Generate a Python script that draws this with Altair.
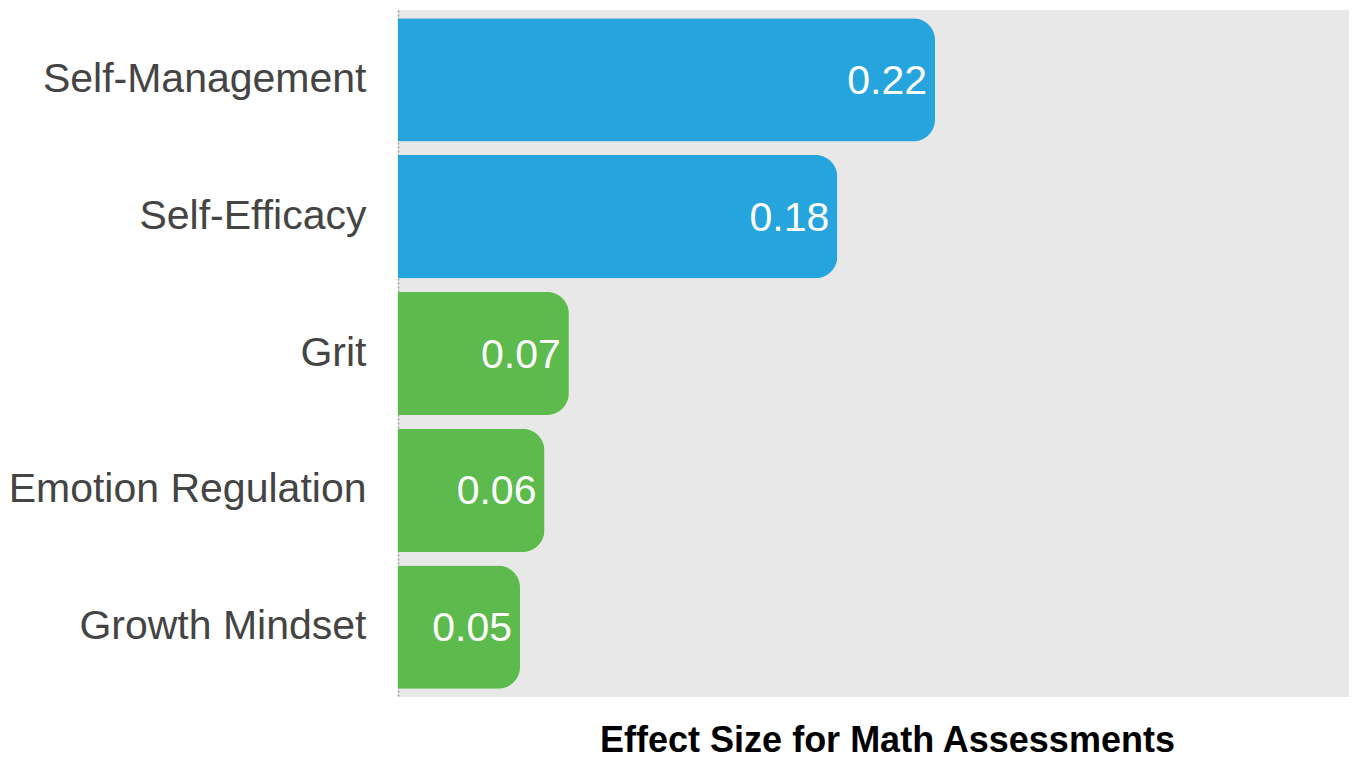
import altair as alt
import pandas as pd

categories = ["Self-Management", "Self-Efficacy", "Grit", "Emotion Regulation", "Growth Mindset"]
values = [0.22, 0.18, 0.07, 0.06, 0.05]
groups = ["top", "top", "other", "other", "other"]
labels = ["0.22", "0.18", "0.07", "0.06", "0.05"]

df = pd.DataFrame({"category": categories, "value": values, "group": groups, "label": labels})

x_scale = alt.Scale(domain=[0, 0.3896], nice=False, zero=True)
y_enc = alt.Y(
    "category:N",
    sort=categories,
    scale=alt.Scale(paddingInner=0.1, paddingOuter=0.06),
    axis=alt.Axis(
        title=None,
        ticks=False,
        labelFont="Liberation Sans",
        labelFontSize=41,
        labelColor="#444444",
        labelPadding=32,
        labelLimit=400,
        domain=True,
        domainColor="#9a9a9a",
        domainDash=[2, 2],
        domainWidth=1.5,
        grid=False,
    ),
)

bars = alt.Chart(df).mark_bar(cornerRadiusEnd=22).encode(
    x=alt.X(
        "value:Q",
        scale=x_scale,
        axis=alt.Axis(
            title="Effect Size for Math Assessments",
            labels=False,
            ticks=False,
            domain=False,
            grid=False,
            titleFont="Liberation Sans",
            titleFontSize=36,
            titleFontWeight="bold",
            titleColor="#000000",
            titleX=489,
            titleY=54,
            titleAlign="center",
            titleBaseline="alphabetic",
        ),
    ),
    y=y_enc,
    color=alt.Color(
        "group:N",
        scale=alt.Scale(domain=["top", "other"], range=["#25A4DD", "#5DBA4C"]),
        legend=None,
    ),
)

text = alt.Chart(df).mark_text(
    align="right", baseline="middle", dx=-8, dy=2, color="white",
    font="Liberation Sans", fontSize=41,
).encode(
    x=alt.X("value:Q", scale=x_scale),
    y=alt.Y("category:N", sort=categories),
    text="label:N",
)

chart = (
    alt.layer(bars, text)
    .properties(
        width=951,
        height=687,
        autosize=alt.AutoSizeParams(type="none"),
        padding={"left": 390, "top": 2, "right": 0, "bottom": 64},
    )
    .configure_view(fill="#E8E8E8", stroke=None)
)

chart.save("out.html", embed_options={"renderer": "svg", "actions": False})
